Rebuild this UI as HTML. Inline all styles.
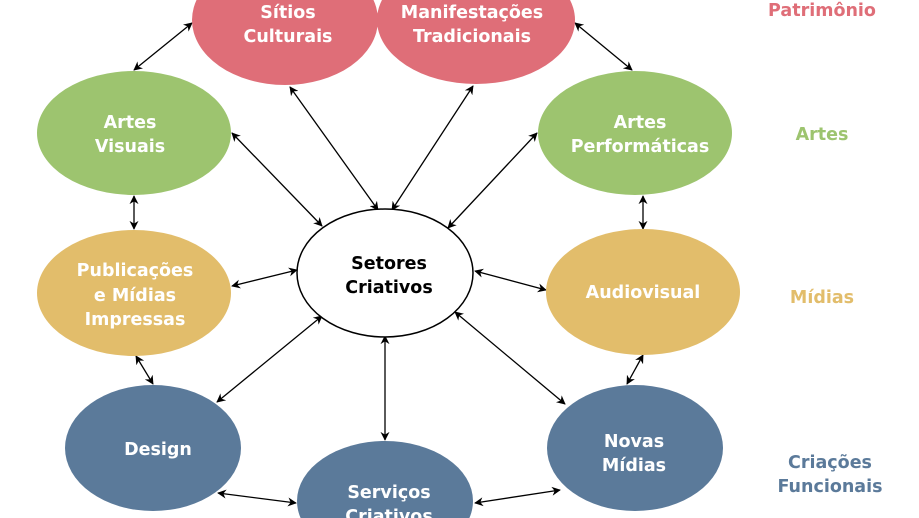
<!DOCTYPE html>
<html><head><meta charset="utf-8"><style>
html,body{margin:0;padding:0;background:#fff;width:919px;height:518px;overflow:hidden;}
svg{display:block;}
text{font-family:"DejaVu Sans","Liberation Sans",sans-serif;font-size:17.5px;font-weight:bold;text-anchor:middle;}
.w{fill:#fff;}
</style></head><body>
<svg width="919" height="518" viewBox="0 0 919 518" xmlns="http://www.w3.org/2000/svg">
<defs>
<marker id="a" viewBox="0 0 10 10" refX="9" refY="5" markerWidth="9" markerHeight="9" orient="auto-start-reverse" markerUnits="userSpaceOnUse"><path d="M0,0 L10,5 L0,10 L3,5 z" fill="#000"/></marker>
</defs>
<g stroke="#000" stroke-width="1.3" marker-start="url(#a)" marker-end="url(#a)">
<line x1="134" y1="70" x2="192" y2="23"/>
<line x1="575" y1="23" x2="632" y2="70"/>
<line x1="290" y1="87" x2="378" y2="210"/>
<line x1="473" y1="86" x2="392" y2="210"/>
<line x1="232" y1="133" x2="322" y2="226"/>
<line x1="537" y1="133" x2="448" y2="228"/>
<line x1="134" y1="196" x2="134" y2="229"/>
<line x1="643" y1="196" x2="643" y2="229"/>
<line x1="232" y1="286" x2="297" y2="270"/>
<line x1="475" y1="271" x2="546" y2="290"/>
<line x1="136" y1="356" x2="153" y2="384"/>
<line x1="643" y1="355" x2="627" y2="384"/>
<line x1="322" y1="316" x2="217" y2="402"/>
<line x1="455" y1="312" x2="565" y2="404"/>
<line x1="385" y1="336" x2="385" y2="440"/>
<line x1="218" y1="493" x2="296" y2="503"/>
<line x1="475" y1="503" x2="560" y2="490"/>
</g>
<ellipse cx="285" cy="20" rx="93" ry="65" fill="#df6e78"/>
<ellipse cx="476" cy="20" rx="99" ry="64" fill="#df6e78"/>
<ellipse cx="134" cy="133" rx="97" ry="62" fill="#9dc46f"/>
<ellipse cx="635" cy="133" rx="97" ry="62" fill="#9dc46f"/>
<ellipse cx="134" cy="293" rx="97" ry="63" fill="#e2bd6b"/>
<ellipse cx="643" cy="292" rx="97" ry="63" fill="#e2bd6b"/>
<ellipse cx="153" cy="448" rx="88" ry="63" fill="#5b7a9a"/>
<ellipse cx="635" cy="448" rx="88" ry="63" fill="#5b7a9a"/>
<ellipse cx="385" cy="501" rx="88" ry="60" fill="#5b7a9a"/>
<ellipse cx="385" cy="273" rx="88" ry="64" fill="#fff" stroke="#000" stroke-width="1.5"/>
<text class="w" x="288" y="18">Sítios</text><text class="w" x="288" y="42">Culturais</text>
<text class="w" x="472" y="18">Manifestações</text><text class="w" x="472" y="42">Tradicionais</text>
<text class="w" x="130" y="128">Artes</text><text class="w" x="130" y="152">Visuais</text>
<text class="w" x="640" y="128">Artes</text><text class="w" x="640" y="152">Performáticas</text>
<text x="389" y="269">Setores</text><text x="389" y="293">Criativos</text>
<text class="w" x="135" y="276">Publicações</text><text class="w" x="135" y="301">e Mídias</text><text class="w" x="135" y="325">Impressas</text>
<text class="w" x="643" y="298">Audiovisual</text>
<text class="w" x="158" y="455">Design</text>
<text class="w" x="634" y="447">Novas</text><text class="w" x="634" y="471">Mídias</text>
<text class="w" x="389" y="498">Serviços</text><text class="w" x="389" y="522">Criativos</text>
<text x="822" y="16" fill="#df6e78">Patrimônio</text>
<text x="822" y="140" fill="#9dc46f">Artes</text>
<text x="822" y="303" fill="#e2bd6b">Mídias</text>
<text x="830" y="468" fill="#5b7a9a">Criações</text>
<text x="830" y="492" fill="#5b7a9a">Funcionais</text>
</svg>
</body></html>
